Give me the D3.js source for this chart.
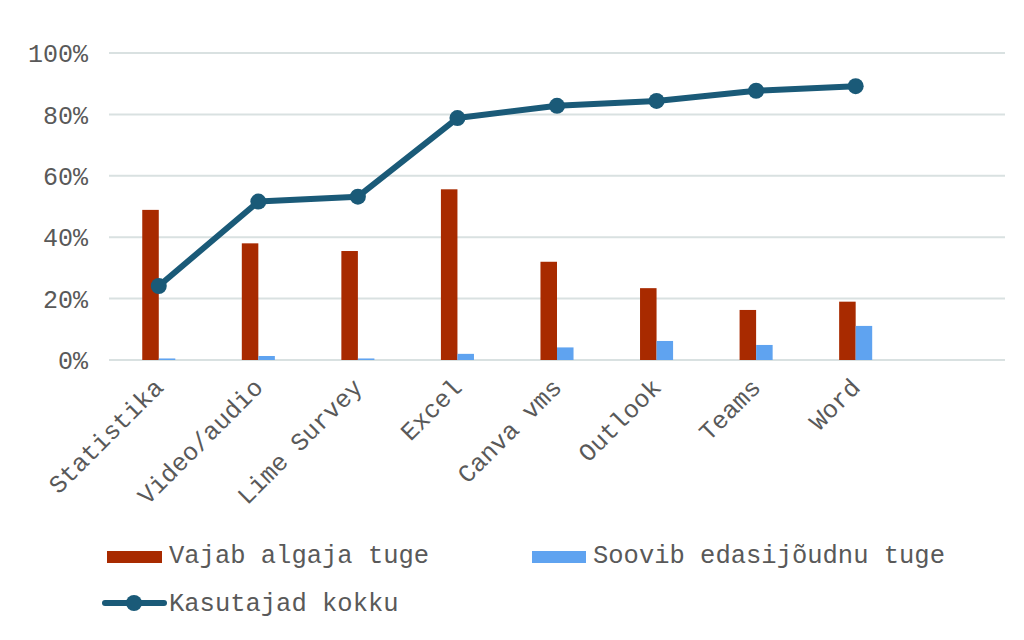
<!DOCTYPE html>
<html><head><meta charset="utf-8">
<script src="https://cdn.jsdelivr.net/npm/d3@7"></script>
<style>body{margin:0;background:#fff}svg{display:block}text{font-family:"Liberation Mono","Courier New",monospace}</style>
</head><body><svg id="c" width="1024" height="640"></svg>
<script>
const categories = ["Statistika","Video/audio","Lime Survey","Excel","Canva vms","Outlook","Teams","Word"];
const vajabAlgaja = [0.489,0.380,0.355,0.556,0.320,0.234,0.163,0.190];
const sooviEdasi = [0.005,0.013,0.005,0.020,0.041,0.062,0.049,0.111];
const kasutajad = [0.241,0.516,0.532,0.788,0.828,0.844,0.877,0.892];
const yTicks = [0,0.2,0.4,0.6,0.8,1.0];
const seriesNames = ["Vajab algaja tuge","Soovib edasijõudnu tuge","Kasutajad kokku"];

const colRed="#A82A00", colBlue="#5FA3F0", colLine="#1A5A78", grid="#D9E1E1", txt="#595959";
const svg=d3.select("#c");
const x=d3.scaleBand().domain([...categories,""]).range([109,1005]).padding(0);
const y=d3.scaleLinear().domain([0,1]).range([360,53]);
const bw=x.bandwidth()*0.166;
const cx=c=>x(c)+x.bandwidth()/2;

// grid
svg.append("g").selectAll("line").data(yTicks).join("line")
 .attr("x1",x.range()[0]).attr("x2",x.range()[1])
 .attr("y1",d=>y(d)).attr("y2",d=>y(d)).attr("stroke",grid).attr("stroke-width",2);
// y labels
const yAxis=d3.axisLeft(y).tickValues(yTicks).tickFormat(d3.format(".0%")).tickSize(0).tickPadding(0);
const ya=svg.append("g").attr("transform","translate(88,0)").call(yAxis);
ya.select(".domain").remove();
ya.selectAll("text").attr("font-size",25).attr("fill",txt).attr("font-family",'"Liberation Mono",monospace').attr("dy","0.35em");

// bars
svg.append("g").selectAll("rect").data(categories).join("rect")
 .attr("x",(c)=>cx(c)-bw).attr("width",bw)
 .attr("y",(c,i)=>y(vajabAlgaja[i])).attr("height",(c,i)=>y(0)-y(vajabAlgaja[i])).attr("fill",colRed);
svg.append("g").selectAll("rect").data(categories).join("rect")
 .attr("x",(c)=>cx(c)).attr("width",bw)
 .attr("y",(c,i)=>y(sooviEdasi[i])).attr("height",(c,i)=>y(0)-y(sooviEdasi[i])).attr("fill",colBlue);

// line
const line=d3.line().x((d,i)=>cx(categories[i])).y(d=>y(d));
svg.append("path").datum(kasutajad).attr("d",line).attr("fill","none").attr("stroke",colLine).attr("stroke-width",6).attr("stroke-linejoin","round");
svg.append("g").selectAll("circle").data(kasutajad).join("circle")
 .attr("cx",(d,i)=>cx(categories[i])).attr("cy",d=>y(d)).attr("r",8).attr("fill",colLine);

// x labels
svg.append("g").selectAll("text").data(categories).join("text")
 .attr("transform",c=>`translate(${cx(c)+6},389) rotate(-45)`)
 .attr("text-anchor","end").attr("font-size",25).attr("fill",txt).text(c=>c);

// legend
const lg=svg.append("g");
lg.append("rect").attr("x",107).attr("y",551).attr("width",55).attr("height",12).attr("fill",colRed);
lg.append("text").attr("x",169).attr("y",563).attr("font-size",25.5).attr("fill",txt).text(seriesNames[0]);
lg.append("rect").attr("x",532).attr("y",551).attr("width",54).attr("height",12).attr("fill",colBlue);
lg.append("text").attr("x",593).attr("y",563).attr("font-size",25.5).attr("fill",txt).text(seriesNames[1]);
lg.append("line").attr("x1",105).attr("x2",164).attr("y1",603).attr("y2",603).attr("stroke",colLine).attr("stroke-width",6).attr("stroke-linecap","round");
lg.append("circle").attr("cx",134).attr("cy",603).attr("r",8).attr("fill",colLine);
lg.append("text").attr("x",169).attr("y",611).attr("font-size",25.5).attr("fill",txt).text(seriesNames[2]);
</script></body></html>
